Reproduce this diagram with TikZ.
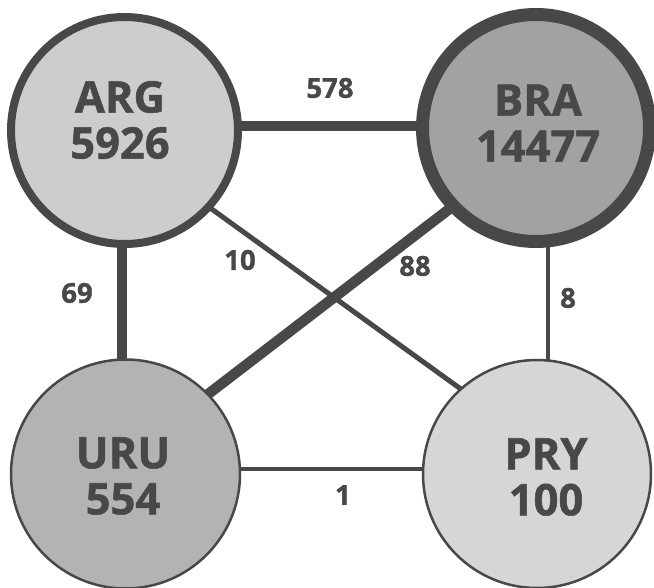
\documentclass[tikz,border=0pt]{standalone}
\usepackage{fontspec}
\setmainfont{Open Sans}[BoldFeatures={FakeBold=1.2}]
\usetikzlibrary{backgrounds}
\definecolor{ink}{HTML}{484848}
\definecolor{argfill}{HTML}{CDCDCD}
\definecolor{brafill}{HTML}{A2A2A2}
\definecolor{urufill}{HTML}{B3B3B3}
\definecolor{pryfill}{HTML}{D6D6D6}
\tikzset{
  country/.style={circle, draw=ink, inner sep=0pt, minimum size=228pt},
  countrylabel/.style={text=ink, font=\fontsize{43.5}{46}\selectfont\bfseries, align=center, inner sep=0pt},
  flow/.style={draw=ink, shorten <=-6pt, shorten >=-6pt},
  wide/.style={flow, line width=10.5pt},
  narrow/.style={flow, line width=5pt},
  amount/.style={text=ink, font=\fontsize{27.5}{30}\selectfont\bfseries, inner sep=0pt}
}
\begin{document}
\begin{tikzpicture}[x=1pt, y=-1pt]
\useasboundingbox (0,0) rectangle (654,588);

% countries
\node[country, fill=argfill, line width=8pt, minimum size=227pt] (arg) at (124.5,130.5) {};
\node[country, fill=brafill, line width=13pt, minimum size=227pt] (bra) at (536,128) {};
\node[country, fill=urufill, line width=2.5pt, minimum size=229pt] (uru) at (125.5,474) {};
\node[country, fill=pryfill, line width=2.5pt, minimum size=228pt] (pry) at (537,474) {};

\node[countrylabel] (argt) at (120,120) {ARG\\5926};
\node[countrylabel] (brat) at (538,123) {BRA\\14477};
\node[countrylabel] (urut) at (123,476) {URU\\554};
\node[countrylabel] (pryt) at (546,477) {PRY\\100};

% trade links, drawn beneath the circles
\begin{pgfonlayer}{background}
  \draw[wide] ([yshift=4.5pt]arg.center) -- ([yshift=2pt]bra.center);
  \draw[wide] ([xshift=-2.5pt]arg.center) -- ([xshift=-3.5pt]uru.center);
  \draw[wide] (uru.44.5) -- (bra.223.7);
  \draw[narrow] (arg.-42) -- (pry.132);
  \draw[narrow, line width=4.5pt] ([xshift=12pt]bra.center) -- ([xshift=11pt]pry.center);
  \draw[narrow, line width=4.5pt] ([yshift=5pt]uru.center) -- ([yshift=5pt]pry.center);
\end{pgfonlayer}

% link amounts
\node[amount] (l578) at (330,88) {578};
\node[amount] (l10) at (240,260) {10};
\node[amount] (l88) at (415,266) {88};
\node[amount] (l69) at (77,293) {69};
\node[amount] (l8) at (568,298) {8};
\node[amount] (l1) at (343,495) {1};
\end{tikzpicture}
\end{document}
